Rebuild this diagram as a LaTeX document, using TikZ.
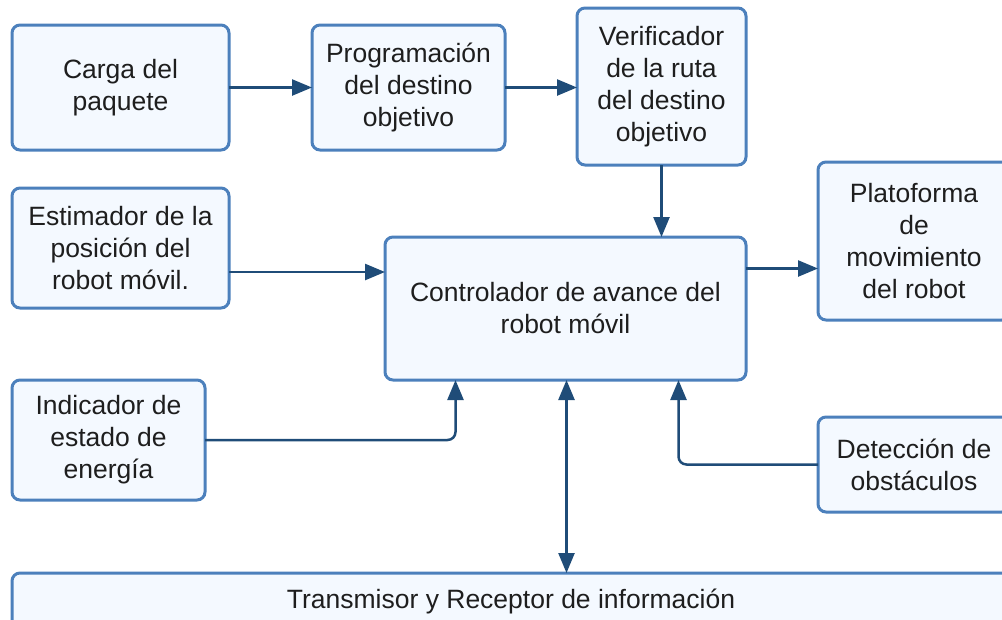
\documentclass[tikz,border=0pt]{standalone}
\usepackage{fontspec}
\setmainfont{Liberation Sans}
\usetikzlibrary{arrows.meta,positioning}
\definecolor{boxline}{RGB}{76,128,188}
\definecolor{boxfill}{RGB}{244,249,255}
\definecolor{flowblue}{RGB}{31,76,120}
\definecolor{txtgray}{RGB}{30,30,30}
\begin{document}
\begin{tikzpicture}
[x=1pt,y=-1pt,
 every node/.style={font=\fontsize{26.5}{32}\selectfont,text=txtgray,align=center,inner sep=0pt,outer sep=0pt},
 blk/.style={draw=boxline,fill=boxfill,line width=3pt,rounded corners=8pt},
 flow/.style={draw=flowblue,line width=2.5pt,rounded corners=8pt,-{Triangle[length=20pt,width=16pt]}},
 both/.style={draw=flowblue,line width=2.5pt,{Triangle[length=20pt,width=16pt]}-{Triangle[length=20pt,width=16pt]}}]
\path[use as bounding box,clip] (0,0) rectangle (1002,619);
\node[blk,minimum width=217pt,minimum height=125pt] (carga) at (120.5,87.5) {Carga del\\paquete};
\node[blk,minimum width=193pt,minimum height=125pt] (prog)  at (408.5,87.5) {Programación\\del destino\\objetivo};
\node[blk,minimum width=169pt,minimum height=157pt] (ver)   at (661.5,86.5) {Verificador\\de la ruta\\del destino\\objetivo};
\node[blk,minimum width=217pt,minimum height=120pt] (est)   at (120.5,248)  {Estimador de la\\posición del\\robot móvil.};
\node[blk,minimum width=361pt,minimum height=143pt] (ctl)   at (565.5,308.5) {Controlador de avance del\\robot móvil};
\node[blk,minimum width=192pt,minimum height=158pt] (plat)  at (914,241)    {Platoforma\\de\\movimiento\\del robot};
\node[blk,minimum width=193pt,minimum height=120pt] (ind)   at (108.5,440)  {Indicador de\\estado de\\energía};
\node[blk,minimum width=192pt,minimum height=95pt]  (det)   at (914,464.5)  {Detección de\\obstáculos};
\node[blk,minimum width=998pt,minimum height=56pt]  (tr)    at (511,601)    {Transmisor y Receptor de información};
\draw[flow] (carga.east) -- (prog.west);
\draw[flow] (prog.east) -- (prog.east -| ver.west);
\draw[flow] (ver.south) -- (ver.south |- ctl.north);
\draw[flow] ([yshift=-24pt]est.east) -- ([yshift=-24pt]est.east -| ctl.west);
\draw[flow] ([yshift=40pt]ctl.east) -- ([yshift=40pt]ctl.east -| plat.west);
\draw[flow] (ind.east) -| ([xshift=-110pt]ctl.south);
\draw[flow] (det.west) -| ([xshift=113pt]ctl.south);
\draw[both] ([xshift=1pt]ctl.south) -- ([xshift=1pt]ctl.south |- tr.north);
\end{tikzpicture}
\end{document}
